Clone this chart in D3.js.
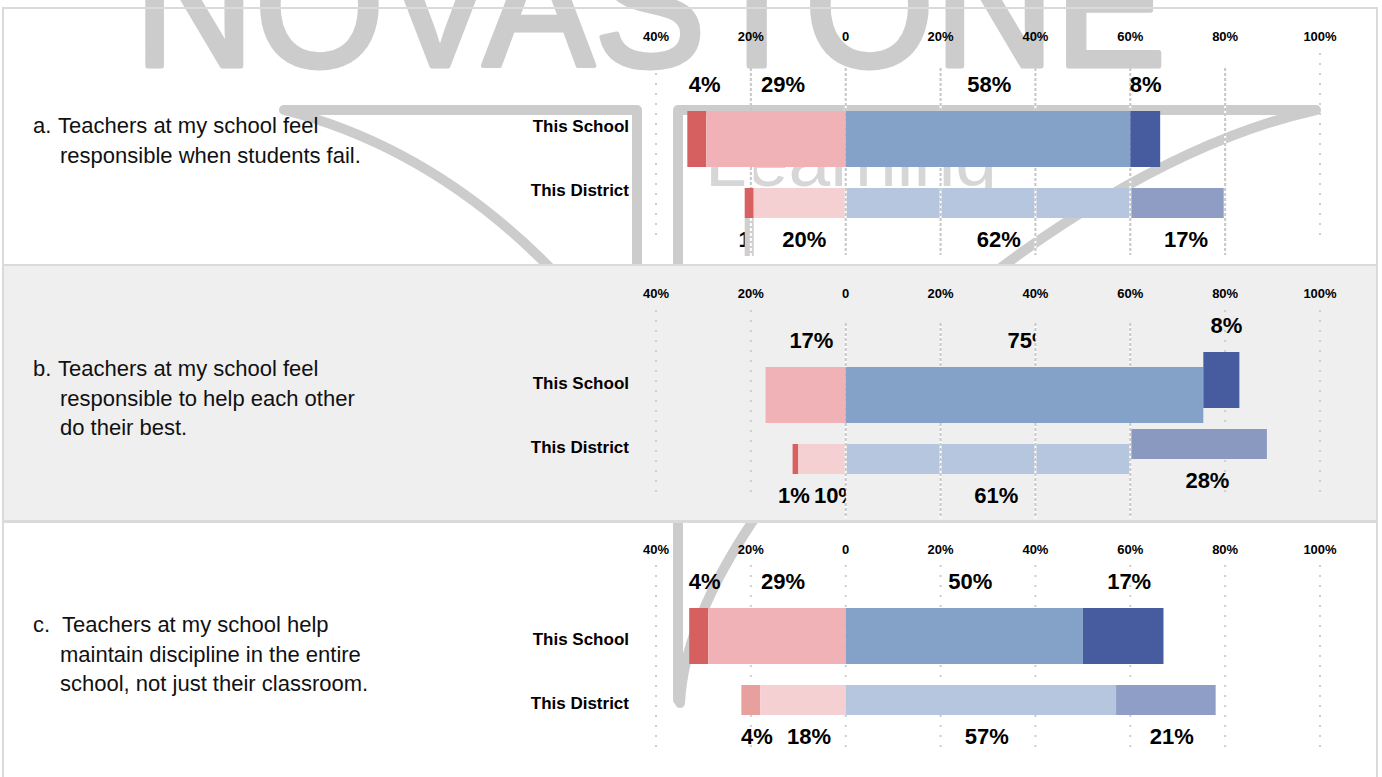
<!DOCTYPE html>
<html>
<head>
<meta charset="utf-8">
<script src="https://cdn.jsdelivr.net/npm/d3@7"></script>
<style>
  body { margin: 0; background: #fff; }
  svg { display: block; font-family: "Liberation Sans", Arial, sans-serif; }
</style>
</head>
<body>
<div id="chart"></div>
<script>
// question text: prefix, first line, continuation lines
var questions = [
  ["a.", "Teachers at my school feel", "responsible when students fail."],
  ["b.", "Teachers at my school feel", "responsible to help each other", "do their best."],
  ["c.", "Teachers at my school help", "maintain discipline in the entire", "school, not just their classroom."]
];
var groups = ["This School", "This District"];
var tickValues = [-40, -20, 0, 20, 40, 60, 80, 100];

// bar lengths (strongly disagree, disagree, agree, strongly agree)
var schoolValues   = [[4, 29.4, 60, 6.3], [0, 16.9, 75.4, 7.6], [4, 29, 50, 17]];
var districtValues = [[1.9, 19.4, 60, 19.7], [1.2, 10, 60, 28.8], [4, 18, 57, 21]];
// percentages printed on the chart
var schoolLabels   = [[4, 29, 58, 8], [null, 17, 75, 8], [4, 29, 50, 17]];
var districtLabels = [[1, 20, 62, 17], [1, 10, 61, 28], [4, 18, 57, 21]];

var schoolColors = ["#d66060", "#f0b2b6", "#84a1c8", "#475c9e"];
var districtColors = [
  ["#d96060", "#f5d0d3", "#b6c6df", "#8f9dc5"],
  ["#d96060", "#f5d0d3", "#b6c6df", "#8a99c0"],
  ["#e8a09e", "#f5d0d3", "#b6c6df", "#8f9ec6"]
];

// panel layout (y relative to panel top)
var layout = [
  {top: 8,   bg: "#ffffff", schoolY: 103, districtY: 180, saShift: 0,   gridOver: true,
   dense: [0, 20, 40, 60, 80], plain: [-20], denseY: [60, 247],
   sparseY: {"-40": [65, 229], "100": [45, 229]}},
  {top: 265, bg: "#efefef", schoolY: 102, districtY: 179, saShift: -15, gridOver: true,
   dense: [0, 20, 40, 60], plain: [], denseY: [58, 253],
   sparseY: {"-40": [45, 228], "-20": [45, 228], "80": [45, 228], "100": [45, 228]}},
  {top: 521, bg: "#ffffff", schoolY: 87,  districtY: 164, saShift: 0,   gridOver: false,
   dense: [], plain: [], denseY: [0, 0],
   sparseY: {"-40": [44, 229], "-20": [44, 229], "0": [44, 229], "20": [44, 229], "40": [44, 229], "60": [44, 229], "80": [44, 229], "100": [44, 229]}}
];
// labels cut off in the picture: [panel, row, segment, clip value]
var clipped = [[0, 1, 0, -21.3], [1, 0, 2, 40], [1, 1, 1, 0]];

var width = 1382, height = 777;
var schoolH = 56, districtH = 30;

var x = d3.scaleLinear().domain([-40, 100]).range([656, 1320]);

var svg = d3.select("#chart").append("svg")
  .attr("width", width).attr("height", height);
var defs = svg.append("defs");

function spans(v) {
  var a = v.map(function(d) { return d == null ? 0 : d; });
  return [[-(a[0] + a[1]), -a[1]], [-a[1], 0], [0, a[2]], [a[2], a[2] + a[3]]];
}

// page background and watermark
svg.append("rect").attr("width", width).attr("height", height).attr("fill", "#fff");

var wm = svg.append("g").attr("class", "watermark");
wm.append("text")
  .attr("x", 134).attr("y", 66)
  .attr("font-size", 176)
  .attr("textLength", 1032).attr("lengthAdjust", "spacingAndGlyphs")
  .attr("fill", "#cccccc").attr("stroke", "#cccccc").attr("stroke-width", 5)
  .attr("stroke-linejoin", "round")
  .text("NOVASTONE");
wm.append("path")
  .attr("d", "M580,300 Q450,152 284,110 L637,110 L637,300")
  .attr("fill", "none").attr("stroke", "#cccccc").attr("stroke-width", 10)
  .attr("stroke-linecap", "round").attr("stroke-linejoin", "round");
wm.append("path")
  .attr("d", "M678,700 L678,110 L1316,110 C1040,172 690,500 680,703")
  .attr("fill", "none").attr("stroke", "#cccccc").attr("stroke-width", 10)
  .attr("stroke-linecap", "round").attr("stroke-linejoin", "round");
wm.append("text")
  .attr("x", 705).attr("y", 186)
  .attr("font-size", 75)
  .attr("fill", "#d6d6d6")
  .text("Learning");

// panel b is opaque and hides the watermark
svg.append("rect")
  .attr("x", 3).attr("y", layout[1].top)
  .attr("width", 1374).attr("height", 256)
  .attr("fill", layout[1].bg);

// panel borders
layout.forEach(function(L, i) {
  svg.append("rect")
    .attr("x", 3).attr("y", L.top)
    .attr("width", 1374).attr("height", i == 2 ? 280 : 257)
    .attr("fill", "none").attr("stroke", "#dadada").attr("stroke-width", 2);
});

function drawBars(g, values, colors, y, h, shift, cls) {
  g.append("g").attr("class", cls)
    .selectAll("rect")
    .data(spans(values))
    .join("rect")
      .attr("x", function(d) { return x(d[0]); })
      .attr("width", function(d) { return Math.max(0, x(d[1]) - x(d[0])); })
      .attr("y", function(d, i) { return i == 3 ? y + shift : y; })
      .attr("height", h)
      .attr("fill", function(d, i) { return colors[i]; });
}

function gridLine(grid, t, y1, y2, color, dash) {
  grid.append("line")
    .attr("x1", x(t)).attr("x2", x(t))
    .attr("y1", y1).attr("y2", y2)
    .attr("stroke", color).attr("stroke-width", 2)
    .attr("stroke-dasharray", dash);
}

// lines that stay under the bars
function drawGridUnder(g, L) {
  var grid = g.append("g").attr("class", "grid-under");
  L.plain.forEach(function(t) {
    gridLine(grid, t, L.denseY[0], L.denseY[1], "#c6c6c6", "3,2");
  });
  Object.keys(L.sparseY).forEach(function(k) {
    gridLine(grid, +k, L.sparseY[k][0], L.sparseY[k][1], "#cdcdcd", "2,8");
  });
}

function drawGridDense(g, L) {
  var grid = g.append("g").attr("class", "grid-dense");
  L.dense.forEach(function(t) {
    gridLine(grid, t, L.denseY[0], L.denseY[1], "#ffffff", null);
    gridLine(grid, t, L.denseY[0], L.denseY[1], "#c6c6c6", "3,2");
  });
}

function drawLabels(g, p, row, labels, baseY, shift) {
  var sp = spans(labels);
  var items = [];
  labels.forEach(function(v, i) {
    if (v == null) return;
    items.push({v: v, i: i, cx: x((sp[i][0] + sp[i][1]) / 2) + 6,
                y: i == 3 ? baseY + shift : baseY});
  });
  var texts = g.append("g").attr("class", "labels")
    .selectAll("text")
    .data(items)
    .join("text")
      .attr("x", function(d) { return d.cx; })
      .attr("y", function(d) { return d.y; })
      .attr("text-anchor", "middle")
      .attr("font-size", 22).attr("font-weight", "bold")
      .attr("fill", "#000")
      .text(function(d) { return d.v + "%"; });
  // push apart labels that collide on the same line
  texts.each(function(d) { d.w = this.getComputedTextLength(); });
  for (var k = 0; k < items.length - 1; k++) {
    var a = items[k], b = items[k + 1];
    if (a.y != b.y) continue;
    var over = (a.cx + a.w / 2 + 4) - (b.cx - b.w / 2);
    if (over > 0) { a.cx -= over / 2; b.cx += over / 2; }
  }
  texts.attr("x", function(d) { return d.cx; });
  // clipped labels
  texts.each(function(d) {
    var c = clipped.filter(function(c) { return c[0] == p && c[1] == row && c[2] == d.i; })[0];
    if (!c) return;
    var id = "clip-" + p + "-" + row + "-" + d.i;
    defs.append("clipPath").attr("id", id)
      .append("rect").attr("x", 0).attr("y", 0)
      .attr("width", x(c[3])).attr("height", height);
    d3.select(this).attr("clip-path", "url(#" + id + ")");
  });
}

layout.forEach(function(L, p) {
  var g = svg.append("g").attr("transform", "translate(0," + L.top + ")");

  // question
  var q = questions[p];
  var y0 = q.length == 3 ? 125 : 111;
  var qt = g.append("text").attr("font-size", 22).attr("fill", "#111");
  qt.append("tspan").attr("x", 33).attr("y", y0).text(q[0]);
  qt.append("tspan").attr("x", p == 2 ? 62 : 58).attr("y", y0).text(q[1]);
  q.slice(2).forEach(function(line, j) {
    qt.append("tspan").attr("x", 60).attr("y", y0 + 29.5 * (j + 1)).text(line);
  });

  // group names
  g.selectAll(".grp").data(groups).join("text")
    .attr("class", "grp")
    .attr("x", 629).attr("y", function(d, i) { return i ? 188 : 124; })
    .attr("text-anchor", "end")
    .attr("font-size", 17).attr("font-weight", "bold").attr("fill", "#000")
    .text(function(d) { return d; });

  // axis tick labels
  g.selectAll(".tick").data(tickValues).join("text")
    .attr("class", "tick")
    .attr("x", function(d) { return x(d); }).attr("y", 33)
    .attr("text-anchor", "middle")
    .attr("font-size", 13).attr("font-weight", "bold").attr("fill", "#000")
    .text(function(d) { return d === 0 ? "0" : Math.abs(d) + "%"; });

  var dv = districtValues[p], dSp = spans(dv);

  drawGridUnder(g, L);
  if (L.gridOver) {
    drawBars(g, dv, districtColors[p], L.districtY, districtH, L.saShift, "district");
    drawGridDense(g, L);
  } else {
    drawGridDense(g, L);
    drawBars(g, dv, districtColors[p], L.districtY, districtH, L.saShift, "district");
  }

  if (p == 0) {
    // odd grey strip under the district's first segment
    var sx = x(dSp[0][0]), sw = x(dSp[0][1]) - x(dSp[0][0]);
    var strip = g.append("g").attr("class", "strip");
    strip.append("rect").attr("x", sx).attr("width", sw)
      .attr("y", L.schoolY + schoolH).attr("height", L.districtY - L.schoolY - schoolH)
      .attr("fill", "#fff");
    strip.append("rect").attr("x", sx).attr("width", sw)
      .attr("y", L.districtY + districtH).attr("height", 38)
      .attr("fill", "#cfcfcf");
    gridLine(strip, -20, L.schoolY + schoolH, L.districtY, "#c6c6c6", "3,2");
    gridLine(strip, -20, L.districtY + districtH, L.districtY + districtH + 38, "#ffffff", "3,2");
  }

  drawBars(g, schoolValues[p], schoolColors, L.schoolY, schoolH, L.saShift, "school");

  drawLabels(g, p, 0, schoolLabels[p], L.schoolY - 19, L.saShift);
  drawLabels(g, p, 1, districtLabels[p], L.districtY + districtH + 29, L.saShift);
});
</script>
</body>
</html>
